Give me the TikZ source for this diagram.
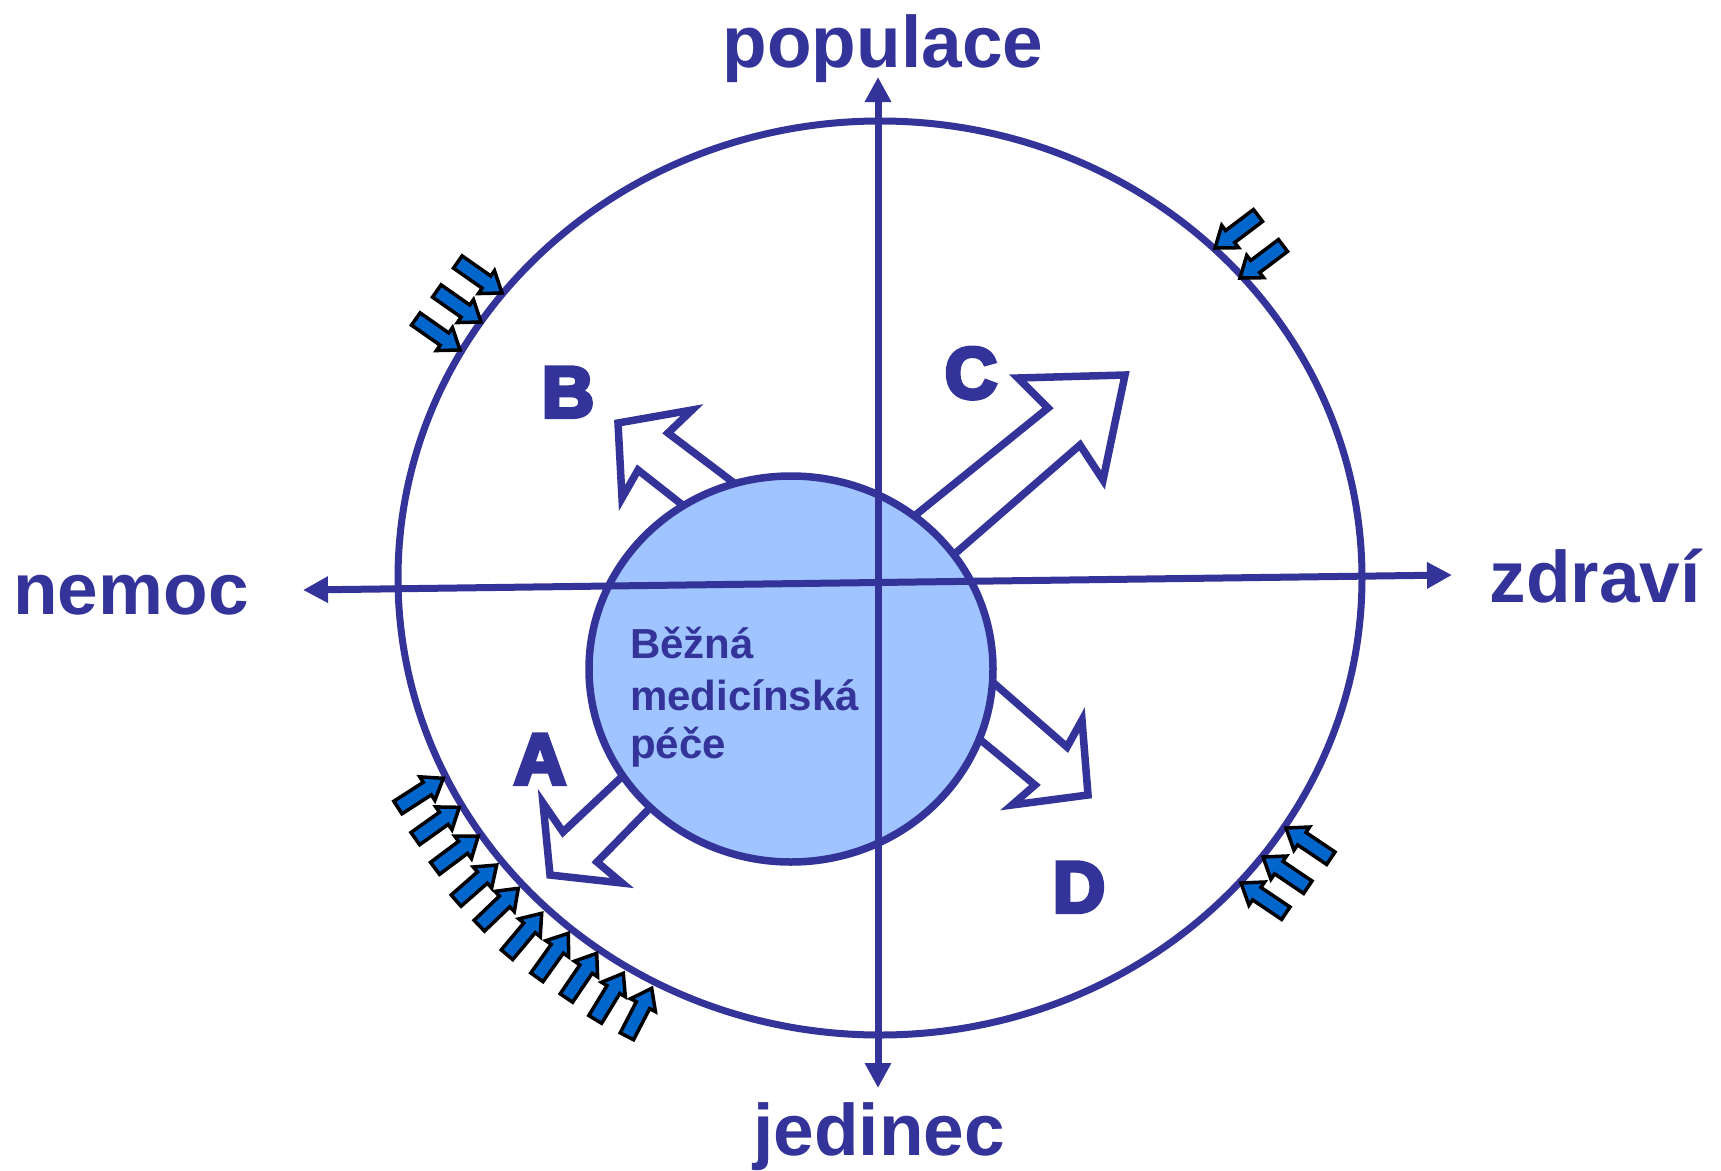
\documentclass[tikz,border=0pt]{standalone}
\usepackage{fontspec}
\setmainfont{Liberation Sans}
\newfontfamily\heavyfont{Liberation Sans Bold}[FakeBold=6]
\usetikzlibrary{calc,arrows.meta}
\definecolor{myblue}{HTML}{333399}
\definecolor{corefill}{HTML}{A0C4FF}
\definecolor{pushfill}{HTML}{0066CC}
\newcommand\pusharrow[2]{%
  \coordinate (pa-t) at (#1);
  \coordinate (pa-p) at (#2);
  \coordinate (pa-h) at ($(pa-p)!19pt!(pa-t)$);
  \draw[push] ($(pa-t)!7.5pt!90:(pa-p)$) -- ($(pa-h)!7.5pt!90:(pa-p)$) -- ($(pa-h)!14pt!90:(pa-p)$)
    -- (pa-p) -- ($(pa-h)!14pt!-90:(pa-p)$) -- ($(pa-h)!7.5pt!-90:(pa-p)$) -- ($(pa-t)!7.5pt!-90:(pa-p)$) -- cycle;
}
\begin{document}
\begin{tikzpicture}[x=1pt,y=-1pt,
  axis/.style={draw=myblue, line width=7pt, {Triangle[length=25pt,width=25pt]}-{Triangle[length=25pt,width=25pt]}},
  ring/.style={draw=myblue, line width=7pt},
  core/.style={draw=myblue, fill=corefill, line width=7.5pt},
  hollow/.style={draw=myblue, fill=white, line width=7.5pt, line join=miter},
  push/.style={draw=black, fill=pushfill, line width=3.5pt, line join=miter},
  axislabel/.style={text=myblue, font=\fontsize{73}{80}\selectfont\bfseries, inner sep=0pt, anchor=base},
  letter/.style={text=myblue, font=\heavyfont\fontsize{72}{80}\selectfont, inner sep=0pt, anchor=base},
  coretext/.style={text=myblue, font=\fontsize{42}{50}\selectfont\bfseries, inner sep=0pt, anchor=base west},
]
\useasboundingbox (0,0) rectangle (1721,1170);
% outer ring
\draw[ring] (880,578) ellipse [x radius=482, y radius=457];
% small pushing arrows
% upper left
\pusharrow{457.8,262}{502,293}
\pusharrow{436.8,291}{481,322}
\pusharrow{415.8,319}{460,350}
% upper right
\pusharrow{1258,215.5}{1215,248}
\pusharrow{1283,245.5}{1240,278}
% lower right
\pusharrow{1330.8,858.2}{1286,828}
\pusharrow{1307.8,887.2}{1263,857}
\pusharrow{1285.8,913.2}{1241,883}
% lower left
\pusharrow{397.9,807.5}{443.3,778.3}
\pusharrow{415.3,838.6}{459.3,807.3}
\pusharrow{435.0,868.3}{478.3,836}
\pusharrow{456.1,900.6}{496.7,865}
\pusharrow{479.3,925.7}{518.3,888.3}
\pusharrow{507.0,954.7}{541.7,913.3}
\pusharrow{536.9,977.3}{568.3,933.3}
\pusharrow{566.4,998.0}{596.7,953.3}
\pusharrow{595.2,1019.4}{623.3,973.3}
\pusharrow{626.9,1036.3}{651.7,988.3}
% hollow arrows
\draw[hollow] (871,551) -- (1048,408) -- (1018,378) -- (1125,375) -- (1103,480) -- (1080,445) -- (912,591) -- cycle; % C
\draw[hollow] (779,517) -- (668,433) -- (692,410) -- (618,423) -- (622,498) -- (638,470) -- (727,540) -- cycle; % B
\draw[hollow] (949,644) -- (1067,747) -- (1082,720) -- (1088,795) -- (1012,805) -- (1035,785) -- (936,703) -- cycle; % D
\draw[hollow] (662,739) -- (563,832) -- (543,803) -- (550,875) -- (622,883) -- (597,862) -- (690,767) -- cycle; % A
% inner circle
\draw[core] (791,669) ellipse [x radius=202, y radius=193];
% axes
\coordinate (ytop) at (878,77);
\coordinate (ybot) at (878,1088);
\coordinate (xleft) at (303,590);
\coordinate (xright) at (1452,575);
\draw[axis] (ybot) -- (ytop);
\draw[axis] (xleft) -- (xright);
% labels
\node[axislabel] (pop) at (883,67) {populace};
\node[axislabel] (jed) at (879,1155) {jedinec};
\node[axislabel] (nem) at (131,614) {nemoc};
\node[axislabel] (zdr) at (1595,602) {zdraví};
\node[letter] (la) at (540,784) {A};
\node[letter] (lb) at (568,417) {B};
\node[letter] (lc) at (971,398) {C};
\node[letter] (ld) at (1079,912) {D};
\node[coretext] (t1) at (630,658) {Běžná};
\node[coretext] (t2) at (630,710) {medicínská};
\node[coretext] (t3) at (630,758) {péče};
\end{tikzpicture}
\end{document}
